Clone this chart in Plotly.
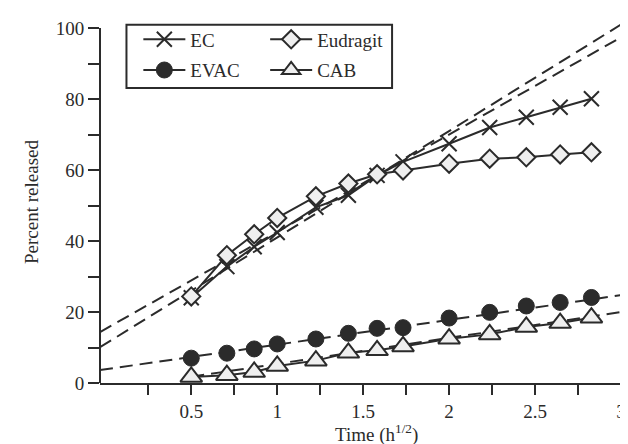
import plotly.graph_objects as go

# ---------------- data ----------------
time_sqrt = [0.5, 0.707, 0.866, 1.0, 1.225, 1.414, 1.581, 1.732, 2.0, 2.236, 2.449, 2.646, 2.828]
ec = [24.0, 32.8, 38.4, 42.4, 49.5, 52.9, 58.5, 62.3, 67.4, 72.0, 74.9, 77.7, 80.1]
eudragit = [24.4, 36.0, 41.9, 46.5, 52.6, 56.2, 58.8, 59.9, 61.8, 63.2, 63.6, 64.4, 65.0]
evac = [7.0, 8.4, 9.6, 11.0, 12.4, 14.0, 15.4, 15.6, 18.3, 19.9, 21.7, 22.7, 24.1]
cab = [1.7, 2.2, 3.1, 4.8, 6.3, 8.5, 9.2, 10.3, 12.5, 13.7, 15.8, 16.9, 18.4]

# linear fits (dashed): intercept, slope, x-start, x-end
fit_intercept = [11.0, 15.2, 3.86, -1.9]
fit_slope = [30.0, 27.4, 6.96, 7.3]
fit_start = [None, None, None, 0.5]   # None -> start of axis
fit_end = [3.0, 3.0, 3.0, 3.0]

x_tick_vals = [0.25, 0.5, 0.75, 1.0, 1.25, 1.5, 1.75, 2.0, 2.25, 2.5, 2.75, 3.0]
x_tick_text = [" ", "0.5", " ", "1", " ", "1.5", " ", "2", " ", "2.5", " ", "3"]
y_tick_vals = [0, 10, 20, 30, 40, 50, 60, 70, 80, 90, 100]
y_tick_text = ["0", " ", "20", " ", "40", " ", "60", " ", "80", " ", "100"]

X_MIN, X_MAX = -0.031, 3.0
Y_MIN, Y_MAX = 0, 102

DARK = "#2b2b2b"
FILL = "#efefef"
FONT = "Liberation Serif"

MK_EC = dict(symbol="x-thin-open", size=15, color=DARK, line=dict(color=DARK, width=2))
MK_EUD = dict(symbol="diamond", size=14, color=FILL, line=dict(color=DARK, width=2))
MK_EVAC = dict(symbol="circle", size=16, color=DARK, line=dict(color=DARK, width=1))
MK_CAB = dict(symbol="triangle-up", size=19, color=FILL, line=dict(color=DARK, width=2))

fig = go.Figure()

# dashed fit lines
for a, b, s, e in zip(fit_intercept, fit_slope, fit_start, fit_end):
    x0 = X_MIN if s is None else s
    fig.add_trace(go.Scatter(
        x=[x0, e], y=[a + b * x0, a + b * e], mode="lines",
        line=dict(color=DARK, width=2, dash="13px,7px"),
        showlegend=False, hoverinfo="skip"))

# data series
fig.add_trace(go.Scatter(x=time_sqrt, y=ec, mode="lines+markers", showlegend=False,
                         line=dict(color=DARK, width=2), marker=MK_EC))
fig.add_trace(go.Scatter(x=time_sqrt, y=eudragit, mode="lines+markers", showlegend=False,
                         line=dict(color=DARK, width=2), marker=MK_EUD))
fig.add_trace(go.Scatter(x=time_sqrt, y=cab, mode="lines+markers", showlegend=False,
                         line=dict(color=DARK, width=2), marker=MK_CAB))
fig.add_trace(go.Scatter(x=time_sqrt, y=evac, mode="markers", showlegend=False,
                         marker=MK_EVAC))

# legend entries
leg = [
    ("EC", MK_EC, "legend"),
    ("EVAC", MK_EVAC, "legend"),
    ("Eudragit", MK_EUD, "legend2"),
    ("CAB", MK_CAB, "legend2"),
]
for name, mk, lg in leg:
    fig.add_trace(go.Scatter(x=[None], y=[None], mode="lines+markers", name=name,
                             line=dict(color=DARK, width=2), marker=mk,
                             legend=lg, legendgroup=name))

legend_common = dict(font=dict(family=FONT, size=19, color=DARK), bgcolor="rgba(0,0,0,0)",
                     borderwidth=0, tracegroupgap=3, itemsizing="trace", itemwidth=42,
                     xanchor="left", yanchor="top", yref="paper", xref="paper")

fig.update_layout(
    width=628, height=444,
    margin=dict(l=92, r=10, t=12, b=69),
    paper_bgcolor="white", plot_bgcolor="white",
    font=dict(family=FONT, size=19, color=DARK),
    legend=dict(x=0.0736, y=1.0015, **legend_common),
    legend2=dict(x=0.317, y=1.0015, **legend_common),
    xaxis=dict(range=[X_MIN, X_MAX], showgrid=False, zeroline=False,
               showline=True, linecolor=DARK, linewidth=2,
               tickmode="array", tickvals=x_tick_vals, ticktext=x_tick_text,
               ticks="outside", ticklen=10, tickwidth=2, tickcolor=DARK,
               tickfont=dict(family=FONT, size=19, color=DARK)),
    yaxis=dict(range=[Y_MIN, Y_MAX], showgrid=False, zeroline=False, showline=False,
               tickmode="array", tickvals=y_tick_vals, ticktext=y_tick_text,
               ticks="outside", ticklen=11, tickwidth=2, tickcolor=DARK,
               tickfont=dict(family=FONT, size=19, color=DARK),
               title=dict(text="Percent released", font=dict(family=FONT, size=19, color=DARK),
                          standoff=12)),
)

# y axis line (ends at 100)
fig.add_shape(type="line", xref="paper", yref="y", x0=0, x1=0, y0=0, y1=100,
              line=dict(color=DARK, width=2))
# legend frame
fig.add_shape(type="rect", xref="paper", yref="paper", x0=0.0508, x1=0.5606, y0=0.815, y1=0.9895,
              line=dict(color=DARK, width=2), fillcolor="rgba(0,0,0,0)")

# x "0" label and x title
fig.add_annotation(x=-0.04, xref="x", y=-0.069, yref="paper", text="0", showarrow=False,
                   font=dict(family=FONT, size=19, color=DARK), xanchor="center", yanchor="middle")
fig.add_annotation(x=0.53, xref="paper", y=-0.14, yref="paper", text="Time (h<sup>1/2</sup>)",
                   showarrow=False, font=dict(family=FONT, size=19, color=DARK),
                   xanchor="center", yanchor="middle")

fig.write_html("out.html")
